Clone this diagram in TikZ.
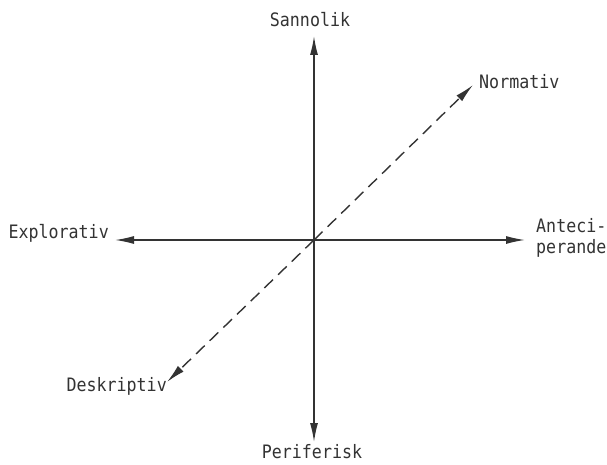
\documentclass[tikz,border=0pt]{standalone}
\usepackage{fontspec}
\setmonofont{DejaVu Sans Mono}[FakeStretch=0.9]
\usetikzlibrary{arrows.meta}
\tikzset{
  lbl/.style={font=\ttfamily\fontsize{18.5}{21}\selectfont,text=black!80,inner sep=1pt},
  axis/.style={line width=1.4pt,black!80,-{Latex[length=19pt,width=8pt]}},
  diag/.style={axis,dash pattern=on 12pt off 7pt}
}
\begin{document}
\begin{tikzpicture}[x=1pt,y=1pt]
    \useasboundingbox (0,0) rectangle (607,464);
    \coordinate (O) at (314,224);
    \coordinate (top) at (314,428);
    \coordinate (bot) at (314,22);
    \coordinate (lft) at (115,224);
    \coordinate (rgt) at (525,224);
    \coordinate (ne) at (473,379);
    \coordinate (sw) at (167,82);
    \node[lbl] (san) at (310,444) {Sannolik};
    \node[lbl] (per) at (312,12) {Periferisk};
    \node[lbl,anchor=east] (exp) at (110,231) {Explorativ};
    \node[lbl,anchor=west,align=left] (ant) at (535,226) {Anteci-\\perande};
    \node[lbl,anchor=west] (nor) at (478,382) {Normativ};
    \node[lbl,anchor=east] (des) at (168,78) {Deskriptiv};
    \draw[axis] (O) -- (top);
    \draw[axis] (O) -- (bot);
    \draw[axis] (O) -- (lft);
    \draw[axis] (O) -- (rgt);
    \draw[diag] (O) -- (ne);
    \draw[diag] (O) -- (sw);
\end{tikzpicture}
\end{document}
